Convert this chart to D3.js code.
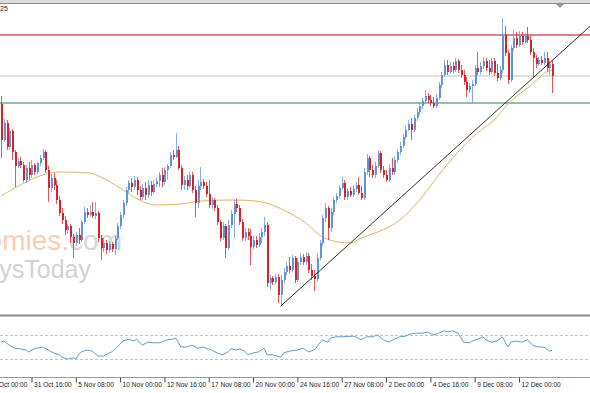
<!DOCTYPE html>
<html>
<head>
<meta charset="utf-8">
<script src="https://cdn.jsdelivr.net/npm/d3@7"></script>
<style>
  html, body { margin: 0; padding: 0; background: #fff; }
  svg { display: block; }
  .axis text { font-family: "Liberation Sans", Arial, sans-serif; font-size: 6.6px; fill: #222; }
</style>
</head>
<body>
<div id="chart"></div>
<script>
// H4 candles, 200 bars (price in chart units)
const open = [296,260,277,253,269,248,234,239,235,220, 232,225,235,228,237,242,248,230,212,222,
  215,200,187,180,170,174,163,157,165,160, 178,188,185,188,184,187,162,152,157,150,
  156,151,162,174,185,197,210,217,213,220, 210,203,212,205,215,208,216,219,225,218,
  230,234,245,243,250,232,215,220,214,225, 210,197,214,218,214,206,195,200,192,178,
  162,174,152,175,186,196,192,178,162,168, 164,153,160,155,163,168,175,117,122,118,
  123,105,120,128,134,130,142,120,138,143, 138,144,130,124,121,142,157,182,192,172,
  188,200,204,212,217,203,209,205,211,215, 207,202,228,242,230,225,234,247,230,225,
  220,232,228,240,248,254,263,270,276,270, 282,288,294,299,304,300,297,294,302,315,
  325,335,328,334,330,339,330,325,318,310, 314,316,332,328,334,339,332,328,339,327,
  322,330,365,347,320,352,362,355,364,358, 364,360,348,342,336,340,337,342,332,336];
const high = [304,281,280,272,271,250,242,243,238,235, 238,240,237,238,245,251,250,234,226,227,
  220,204,192,184,176,176,166,168,172,180, 193,192,195,198,198,189,165,162,160,159,
  158,164,177,188,200,213,220,222,224,223, 214,216,218,220,219,220,222,228,232,233,
  236,248,250,267,254,235,224,225,228,228, 214,220,233,221,218,220,203,202,195,180,
  178,176,180,190,200,201,195,181,172,172, 171,164,164,167,172,183,178,125,124,126,
  126,125,132,138,143,145,144,142,147,146, 148,147,136,130,147,160,185,197,194,192,
  203,207,215,223,220,212,213,215,218,223, 214,232,246,244,235,238,250,249,234,230,
  236,242,244,251,258,266,274,280,282,285, 292,298,302,310,307,305,303,306,318,328,
  340,340,338,338,342,341,335,330,323,317, 320,335,348,338,343,342,340,342,342,336,
  334,382,374,350,355,370,368,369,368,367, 373,364,352,345,343,344,348,348,339,340];
const low = [242,258,250,250,240,213,232,232,218,217, 220,222,225,226,234,240,227,198,208,210,
  196,184,176,165,166,157,142,154,156,158, 176,182,183,182,181,158,140,148,146,147,
  148,145,160,171,182,194,207,208,210,205, 200,200,200,202,204,206,213,213,213,215,
  220,232,240,242,230,210,210,210,212,207, 183,192,210,211,203,192,191,189,175,159,
  160,142,150,172,162,188,175,159,159,160, 135,151,152,153,157,164,113,110,115,116,
  97,94,117,125,127,128,117,118,135,135, 135,127,120,109,118,140,154,178,160,168,
  185,197,201,210,200,200,203,203,208,205, 200,200,225,223,222,222,232,227,222,218,
  218,225,225,237,245,252,261,269,260,268, 279,285,291,297,297,294,292,292,300,312,
  323,325,326,327,328,327,322,315,303,307, 297,314,325,325,331,329,325,326,324,319,
  320,327,344,316,318,349,352,353,355,356, 357,345,323,332,334,335,335,328,325,307];
const close = [260,277,253,269,248,234,239,235,220,232, 225,235,228,237,242,248,230,212,222,215,
  200,187,180,170,174,163,157,165,160,178, 188,185,188,184,187,162,152,157,150,156,
  151,162,174,185,197,210,217,213,220,210, 203,212,205,215,208,216,219,225,218,230,
  234,245,243,250,232,215,220,214,225,210, 197,214,218,214,206,195,200,192,178,162,
  174,152,175,186,196,192,178,162,168,164, 153,160,155,163,168,175,117,122,118,123,
  105,120,128,134,130,142,120,138,143,138, 144,130,124,121,142,157,182,192,172,188,
  200,204,212,217,203,209,205,211,215,207, 202,228,242,230,225,234,247,230,225,220,
  232,228,240,248,254,263,270,276,270,282, 288,294,299,304,300,297,294,302,315,325,
  335,328,334,330,339,330,325,318,310,314, 316,332,328,334,339,332,328,339,327,322,
  330,365,347,320,352,362,355,364,358,364, 360,348,342,336,340,337,342,332,336,324];

// moving average, read at some bars
const maBar = [0,7,15,21,32,36,43,50,56,65,72,84,92,102,110,116,122,126,130,136,144,152,158,165,172,178,183,191,197,199];
const maVal = [204,215,225,228,227,223,212,200,195,196,199,200,199,190,177,163,158,157,162,168,180,203,225,248,267,280,296,314,328,330];

// oscillator (0-100), read at some bars
const oscBar = [0,1,3,5,7,9,10,12,13,15,17,19,21,22,24,26,27,28,29,31,33,35,37,39,40,42,44,46,48,49,51,53,55,57,58,60,62,63,65,67,69,71,73,74,76,78,80,82,83,85,86,88,89,91,93,95,96,98,101,102,104,107,109,111,113,114,116,118,119,121,123,127,128,130,132,134,136,138,140,142,144,146,148,150,152,154,156,158,160,161,163,165,167,169,170,172,174,175,177,179,181,183,184,186,188,190,192,194,196,198,199];
const oscVal = [58,60,53,48,47,45,42,47,48,50,45,40,37,33,30,32,30,37,42,45,43,35,35,40,42,50,60,63,60,63,53,58,57,57,58,62,63,65,50,50,53,48,50,48,45,40,37,42,47,45,47,43,37,40,42,48,37,37,33,40,43,45,48,42,45,50,62,58,65,67,67,68,67,62,67,67,70,62,58,63,67,68,72,73,73,75,70,73,77,75,77,73,58,57,60,63,67,62,58,60,67,50,58,60,58,62,53,50,50,43,45];
const oscLevels = [70, 30];

// horizontal levels and trend line
const levelRed = 365, levelGray = 324, levelGreen = 297;
const trendFrom = { bar: 101, price: 94 };
const trendTo = { bar: 190, price: 317 };

// time axis
const tickBars = [-5,11,27,43,59,75,91,107,123,139,155,171,187];
const tickLabels = ["29 Oct 00:00","31 Oct 16:00","5 Nov 08:00","10 Nov 00:00","12 Nov 16:00","17 Nov 08:00",
  "20 Nov 00:00","24 Nov 16:00","27 Nov 08:00","2 Dec 00:00","4 Dec 16:00","9 Dec 08:00","12 Dec 00:00"];

const width = 590, height = 393;
const main = { top: 4, bottom: 314 };
const sub = { top: 317, bottom: 377 };

const svg = d3.select("#chart").append("svg")
  .attr("width", width).attr("height", height);

const x = d3.scaleLinear().domain([0, 199]).range([1, 1 + 199 * 2.77]);
const y = d3.scaleLinear().domain([85, 397]).range([315, 3]);
const yo = d3.scaleLinear().domain([0, 100]).range([sub.bottom, sub.top]);

svg.append("clipPath").attr("id", "clipMain")
  .append("rect").attr("x", 0).attr("y", main.top).attr("width", width).attr("height", main.bottom - main.top);

// top frame
svg.append("rect").attr("x", 0).attr("y", 0).attr("width", width).attr("height", 3).attr("fill", "#dcdcdc");
svg.append("line").attr("x1", 0).attr("x2", width).attr("y1", 3.5).attr("y2", 3.5).attr("stroke", "#8c8c8c");
svg.append("path").attr("d", "M556,4L564,4L560,8Z").attr("fill", "#9a9a9a");

svg.append("text").attr("x", 0).attr("y", 11).text("25")
  .style("font-family", "Liberation Sans, Arial, sans-serif").style("font-size", "7px").style("fill", "#222");

// watermark
const wm = svg.append("g").style("font-family", "Liberation Sans, Arial, sans-serif");
const wm1 = wm.append("text").attr("x", 122).attr("y", 250).attr("text-anchor", "end").style("font-size", "28px");
wm1.append("tspan").text("Economies").style("fill", "#f7d0b4");
wm1.append("tspan").text(".com").style("fill", "#d6d6d6");
wm.append("text").attr("x", 91).attr("y", 278).attr("text-anchor", "end").style("font-size", "25px")
  .style("fill", "#d2d2d2").text("EconomysToday");

const g = svg.append("g").attr("clip-path", "url(#clipMain)");

// levels (soft, about two pixel rows like the reference)
[[levelRed, "#c8505e", 1.4], [levelGray, "#c4c4c4", 1], [levelGreen, "#5aa888", 1.4]].forEach(([v, c, w]) => {
  g.append("rect").attr("x", 0).attr("width", width)
    .attr("y", y(v) - w / 2).attr("height", w)
    .attr("fill", c);
});

// moving average
const maLine = d3.line().x(d => x(d[0])).y(d => y(d[1])).curve(d3.curveMonotoneX);
g.append("path").datum(maBar.map((b, i) => [b, maVal[i]]))
  .attr("d", maLine).attr("fill", "none").attr("stroke", "#e8b266").attr("stroke-width", 1);

// candles
const bull = "#6393d9", bear = "#d6232b";
const bars = d3.range(open.length);
g.append("g").selectAll("line").data(bars).join("line")
  .attr("x1", i => Math.round(x(i)) + 0.5).attr("x2", i => Math.round(x(i)) + 0.5)
  .attr("y1", i => y(high[i])).attr("y2", i => y(low[i]))
  .attr("stroke", i => close[i] >= open[i] ? bull : bear).attr("stroke-opacity", 0.75);
g.append("g").selectAll("rect").data(bars).join("rect")
  .attr("x", i => Math.round(x(i)))
  .attr("width", 2)
  .attr("y", i => y(Math.max(open[i], close[i])))
  .attr("height", i => Math.max(1, Math.abs(y(open[i]) - y(close[i]))))
  .attr("fill", i => close[i] >= open[i] ? bull : bear);

// trend line (ray to the right edge)
const slope = (trendTo.price - trendFrom.price) / (trendTo.bar - trendFrom.bar);
const endBar = x.invert(width);
g.append("line")
  .attr("x1", x(trendFrom.bar)).attr("y1", y(trendFrom.price))
  .attr("x2", x(endBar)).attr("y2", y(trendFrom.price + slope * (endBar - trendFrom.bar)))
  .attr("stroke", "#1a1a1a").attr("stroke-width", 0.9);

// separator between windows
svg.append("rect").attr("x", 0).attr("y", 314.5).attr("width", width).attr("height", 2).attr("fill", "#8a8a8a");

// oscillator window
oscLevels.forEach(l => {
  svg.append("line").attr("x1", 0).attr("x2", width)
    .attr("y1", Math.round(yo(l)) + 0.5).attr("y2", Math.round(yo(l)) + 0.5)
    .attr("stroke", "#c4c4c4").attr("stroke-dasharray", "3,2");
});
svg.append("path").datum(oscBar.map((b, i) => [b, oscVal[i]]))
  .attr("d", d3.line().x(d => x(d[0])).y(d => yo(d[1])))
  .attr("fill", "none").attr("stroke", "#5f9fc6").attr("stroke-width", 1);

// time axis
const ax = svg.append("g").attr("class", "axis").attr("transform", `translate(0,${sub.bottom + 0.5})`)
  .call(d3.axisBottom(x).tickValues(tickBars).tickFormat((d, i) => tickLabels[i]).tickSize(5).tickSizeOuter(0));
ax.select(".domain").attr("stroke", "#9a9a9a").attr("d", `M0,0H${width}`);
ax.selectAll(".tick line").attr("stroke", "#444");
ax.selectAll(".tick text").attr("text-anchor", "start").attr("x", 2).attr("y", 5).attr("dy", "0.71em");
</script>
</body>
</html>
